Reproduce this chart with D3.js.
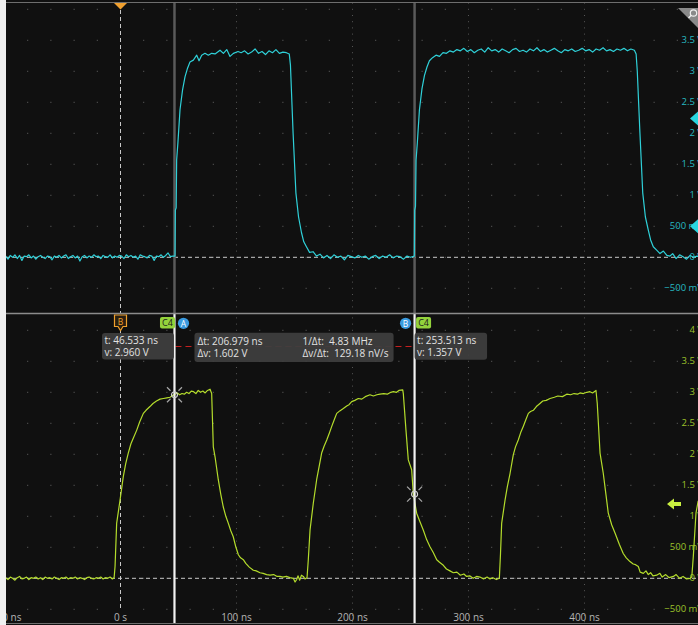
<!DOCTYPE html>
<html>
<head>
<meta charset="utf-8">
<style>
  html, body { margin: 0; padding: 0; background: #f0f0f0; }
  svg { display: block; }
  text { font-family: "Open Sans", "DejaVu Sans", sans-serif; }
</style>
</head>
<body>
<div id="scope"></div>

<script src="https://cdnjs.cloudflare.com/ajax/libs/d3/7.8.5/d3.min.js"></script>
<script>
    // Two stacked scope panels: cyan channel on top, C4 (yellow-green) below with cursors

    // time ticks (ns) and voltage ticks (V)
    var timeTicks = [-100, 0, 100, 200, 300, 400];
    var voltTicksTop = [-0.5, 0, 0.5, 1, 1.5, 2, 2.5, 3, 3.5];
    var voltTicksBot = [-0.5, 0, 0.5, 1, 1.5, 2, 2.5, 3, 3.5, 4];

    // cursor readouts
    var cursorA = {t: 46.533, v: 2.960};
    var cursorB = {t: 253.513, v: 1.357};
    var deltaText = ["\u0394t: 206.979 ns", "\u0394v: 1.602 V"];
    var rateText = ["1/\u0394t:  4.83 MHz", "\u0394v/\u0394t:  129.18 nV/s"];

    // top trace [t ns, volts]
    var traceTop = [
        [-99,0.02],[-97,-0.03],[-95,0.03],[-93,0.00],[-91,0.04],[-89,-0.02],[-87,0.03],[-85,-0.05],[-83,0.02],[-81,0.01],
        [-79,0.04],[-77,-0.01],[-75,0.02],[-73,-0.03],[-71,0.01],[-69,0.03],[-67,0.00],[-65,-0.02],[-63,0.02],[-61,0.01],
        [-59,-0.04],[-57,0.02],[-55,0.00],[-53,0.03],[-51,-0.01],[-49,0.02],[-47,0.04],[-45,-0.02],[-43,0.01],[-41,0.03],
        [-39,-0.01],[-37,0.02],[-35,-0.06],[-33,0.01],[-31,0.03],[-29,-0.01],[-27,0.02],[-25,0.00],[-23,0.04],[-21,0.01],
        [-19,0.02],[-17,-0.02],[-15,0.03],[-13,0.01],[-11,0.00],[-9,0.04],[-7,-0.01],[-5,0.02],[-3,0.00],[-1,0.03],
        [1,0.02],[3,-0.02],[5,0.04],[7,0.01],[9,0.03],[11,0.00],[13,0.02],[15,-0.03],[17,0.04],[19,0.02],
        [21,0.01],[23,-0.01],[25,0.03],[27,0.02],[29,-0.05],[31,0.02],[33,0.01],[35,0.04],[37,0.00],[39,0.03],
        [41,0.07],[43,0.01],[45,0.02],[47.0,0.02],
        [47.3,0.76],[48.0,0.80],[48.4,1.57],[49.5,1.85],[51.3,2.38],[53.5,2.70],[55.6,2.91],[57.8,3.05],
        [59.9,3.15],[62.8,3.18],[65.7,3.26],[67.7,3.17],[70.0,3.26],[72.8,3.29],[75.7,3.26],[78.6,3.29],
        [81.5,3.28],[85.8,3.34],[88.7,3.29],[91.6,3.35],[94.4,3.24],[97.3,3.29],[101.3,3.32],
        [104,3.30],[107,3.33],[110,3.28],[113,3.31],[116,3.36],[119,3.29],[122,3.32],[125,3.27],[128,3.33],
        [131,3.30],[134,3.35],[137,3.29],[140,3.31],[143,3.30],[145.5,3.28],
        [146.5,3.10],[148.8,2.00],[151.2,1.04],[153.5,0.65],[156,0.40],[158,0.25],[160.3,0.17],[163,0.08],
        [166,0.09],[169,0.02],[172,0.05],[175,-0.01],
        [178,0.03],[181,-0.02],[184,0.04],[187,0.00],[190,0.02],[193,-0.04],[196,0.03],[199,0.01],[202,-0.01],
        [205,0.03],[208,0.00],[211,0.02],[214,-0.03],[217,0.01],[220,0.03],[223,-0.02],[226,0.02],[229,0.00],
        [232,0.04],[235,-0.01],[238,0.02],[241,0.01],[244,-0.03],[247,0.02],[250,0.00],[253.3,0.02],
        [253.6,0.76],[254.3,0.82],[254.8,1.57],[255.9,1.85],[257.7,2.38],[259.9,2.72],[262,2.93],[264.2,3.07],
        [266.3,3.17],[269,3.22],[272,3.26],[275,3.24],[278,3.30],[281,3.29],[284,3.33],
        [287,3.31],[290,3.35],[293,3.33],[296,3.37],[299,3.32],[302,3.35],[305,3.30],[308,3.34],[311,3.36],
        [314,3.31],[317,3.38],[320,3.33],[323,3.35],[326,3.31],[329,3.36],[332,3.33],[335,3.30],[338,3.35],
        [341,3.37],[344,3.32],[347,3.34],[350,3.31],[353,3.36],[356,3.33],[359,3.38],[362,3.32],[365,3.35],
        [368,3.31],[371,3.34],[374,3.37],[377,3.33],[380,3.30],[383,3.35],[386,3.33],[389,3.36],[392,3.32],
        [395,3.34],[398,3.37],[401,3.33],[404,3.35],[407,3.31],[410,3.36],[413,3.34],[416,3.38],[419,3.33],
        [422,3.35],[425,3.32],[428,3.36],[431,3.34],[434,3.37],[437,3.33],[440,3.36],[443,3.34],[444.5,3.28],
        [445.5,3.00],[447.8,2.00],[450.2,1.04],[452.5,0.65],[455,0.44],[457,0.28],[459.3,0.17],[462,0.12],
        [465.1,0.06],[468,0.10],[471,0.03],[473.7,0.02],[476,0.06],[479,-0.02],[482,0.04],[485,0.01],
        [488,-0.03],[491,0.03],[494,0.00],[497,0.02],[499,0.01]
    ];

    // bottom trace (C4) [t ns, volts]
    var traceBot = [
        [-99,0.01],[-97,-0.02],[-95,0.02],[-93,0.00],[-91,-0.03],[-89,0.01],[-87,0.03],[-85,-0.01],[-83,0.00],[-81,0.02],
        [-79,-0.02],[-77,0.01],[-75,0.00],[-73,0.02],[-71,-0.01],[-69,0.01],[-67,-0.02],[-65,0.02],[-63,0.00],[-61,0.01],
        [-59,-0.01],[-57,0.02],[-55,0.00],[-53,-0.02],[-51,0.01],[-49,0.00],[-47,0.02],[-45,-0.01],[-43,0.01],[-41,0.00],
        [-39,0.02],[-37,-0.01],[-35,0.01],[-33,0.00],[-31,-0.02],[-29,0.01],[-27,0.02],[-25,0.00],[-23,-0.01],[-21,0.01],
        [-19,0.00],[-17,0.02],[-15,-0.01],[-13,0.01],[-11,0.00],[-9,0.02],[-7,-0.01],[-5.5,0.01],
        [-4.7,0.19],[-3.3,0.89],[-0.4,1.26],[2.4,1.64],[4.5,1.85],[6.7,2.02],[9,2.17],[11.0,2.26],[14.0,2.39],
        [16.5,2.52],[19.7,2.66],[22,2.71],[25.4,2.77],[28,2.82],[31,2.86],[34.1,2.89],[37,2.90],[40,2.91],
        [42.7,2.92],[45,2.95],[47,2.97],[49,2.99],[51,2.96],[53,2.98],[55,2.97],[57,3.00],[59,2.98],[61,3.02],
        [63,3.01],[65,2.98],[67,3.03],[69,3.00],[71,3.02],[73,2.99],[75,3.03],[77.2,3.05],
        [78.6,2.98],[80.0,2.12],[81.5,1.96],[84.3,1.59],[86.5,1.35],[88.6,1.15],[90.8,1.00],[92.9,0.89],[95,0.77],
        [97.2,0.67],[99.5,0.50],[101.6,0.38],[103.5,0.33],[105.9,0.30],[108,0.24],[111,0.18],[114.5,0.13],
        [117,0.12],[120.3,0.09],[123,0.08],[126,0.06],[128.9,0.05],[132,0.06],[135,0.03],[137.5,0.03],[140,0.02],
        [143,0.03],[146,0.01],[149,0.00],[150.5,-0.06],[151.9,-0.02],[153,0.04],[154.5,-0.03],[156,0.05],
        [157.6,0.03],[159,-0.01],[160.8,0.01],
        [161.9,0.30],[163.4,0.78],[166.2,1.21],[169.1,1.59],[171.5,1.83],[173.4,2.02],[175.5,2.13],[177.8,2.23],
        [180,2.34],[182.1,2.45],[184.5,2.57],[186.4,2.66],[189,2.70],[192.1,2.74],[195,2.78],[197,2.80],
        [199.3,2.85],[202,2.87],[205,2.90],[208,2.89],[211,2.93],[215.1,2.96],[218,2.94],[221,2.96],[223.7,2.97],
        [227,2.98],[230,2.97],[233,3.00],[235.2,3.01],[238,3.00],[240,3.03],[243.3,3.04],
        [243.8,2.98],[246.1,2.39],[248.1,1.91],[251.0,1.75],[252.4,1.37],[255.3,1.05],[258,0.92],[261.0,0.78],
        [264,0.62],[266.8,0.51],[269.5,0.42],[272.6,0.30],[275,0.26],[278.3,0.21],[281,0.15],[284,0.12],
        [286.9,0.09],[290,0.10],[293,0.05],[296,0.07],[298.4,0.03],[301,0.04],[304,0.00],[307,0.03],[309.9,0.02],
        [313,-0.01],[316,0.02],[318.5,-0.01],[321,0.01],[324,-0.02],[326.6,0.00],
        [327.6,0.40],[328.6,0.89],[331.5,1.26],[333.5,1.48],[335.8,1.69],[338.6,1.99],[340.5,2.12],[342.9,2.23],
        [345,2.35],[347.2,2.45],[349.5,2.56],[351.6,2.66],[353.5,2.69],[355.9,2.71],[358.5,2.77],[361.6,2.82],
        [364,2.86],[367,2.87],[370.3,2.90],[374,2.92],[377,2.94],[381,2.93],[384.7,2.97],[388,2.96],[391,2.98],
        [394,2.97],[396.1,2.99],[399,2.98],[402,3.00],[404.7,3.01],[407,2.99],[409.9,3.03],
        [411.0,2.82],[413.4,2.02],[416.2,1.69],[418.5,1.35],[420.5,1.05],[423.5,0.86],[426.3,0.73],[430,0.55],
        [433.4,0.40],[436,0.33],[439.2,0.27],[442,0.23],[444,0.22],[446.4,0.19],[448,0.10],[450.7,0.08],
        [453,0.12],[455,0.06],[457,0.09],[459,0.04],[462.2,0.05],[465,0.08],[467,0.02],[470,0.06],[473,0.01],
        [476.6,0.03],[479,0.06],[482,0.00],[485,0.03],[488,-0.01],[491,0.00],[492.5,0.02],
        [493.8,0.35],[496.1,1.05],[498,1.25]
    ];

    var width = 698, height = 625;
    var plotLeft = 6, plotRight = 698;
    var topY0 = 3, topY1 = 313, botY0 = 314, botY1 = 623;

    var cyan = "#2fd0d8", cyanLabel = "#27b9c1";
    var lime = "#b4dc2c", limeLabel = "#9cc22a";

    var x = d3.scaleLinear().domain([-100, 500]).range([4.5, 700.5]);
    var yTop = d3.scaleLinear().domain([-0.5, 4]).range([288.3, 9.3]);
    var yBot = d3.scaleLinear().domain([-0.5, 4]).range([609.3, 330.3]);

    function voltLabel(v) {
        if (v === 0) return "0 V";
        if (Math.abs(v) < 1) return d3.format("d")(v * 1000) + " mV";
        return v + " V";
    }
    function timeLabel(t) {
        return t === 0 ? "0 s" : t + " ns";
    }

    var svg = d3.select("#scope").append("svg")
        .attr("width", width)
        .attr("height", height);

    // screen background
    svg.append("rect").attr("x", plotLeft).attr("y", 0)
        .attr("width", plotRight - plotLeft).attr("height", height)
        .attr("fill", "#101010");

    var defs = svg.append("defs");
    defs.append("clipPath").attr("id", "clipTop").append("rect")
        .attr("x", plotLeft).attr("y", topY0).attr("width", plotRight - plotLeft).attr("height", topY1 - topY0);
    defs.append("clipPath").attr("id", "clipBot").append("rect")
        .attr("x", plotLeft).attr("y", botY0).attr("width", plotRight - plotLeft).attr("height", botY1 - botY0);

    // grid dots for one panel
    function drawGrid(g, y, y0, y1) {
        var cols = d3.range(-100, 501, 20);
        var rows = d3.range(-0.5, 4.01, 0.5);
        cols.forEach(function(t) {
            if (t % 100 === 0 && t !== 0) {
                // dense dotted major column
                var vLo = y.invert(y1), vHi = y.invert(y0);
                d3.range(Math.ceil(vLo * 10) / 10, vHi, 0.1).forEach(function(v) {
                    g.append("rect").attr("x", x(t) - 0.5).attr("y", y(v) - 0.5)
                        .attr("width", 1).attr("height", 1).attr("fill", "#555");
                });
            } else if (t !== 0) {
                rows.forEach(function(v) {
                    g.append("rect").attr("x", x(t) - 0.5).attr("y", y(v) - 0.5)
                        .attr("width", 1).attr("height", 1).attr("fill", "#666");
                });
            }
        });
        // zero reference dashed
        g.append("line")
            .attr("x1", plotLeft).attr("x2", plotRight)
            .attr("y1", y(0)).attr("y2", y(0))
            .attr("stroke", "#c8c8c8").attr("stroke-width", 1)
            .attr("stroke-dasharray", "4,3");
    }

    var gTop = svg.append("g").attr("clip-path", "url(#clipTop)");
    var gBot = svg.append("g").attr("clip-path", "url(#clipBot)");
    drawGrid(gTop, yTop, topY0, topY1);
    drawGrid(gBot, yBot, botY0, botY1);

    // trigger time line
    gTop.append("line").attr("x1", x(0)).attr("x2", x(0)).attr("y1", 10).attr("y2", topY1)
        .attr("stroke", "#c8c8c8").attr("stroke-dasharray", "4,3");
    gBot.append("line").attr("x1", x(0)).attr("x2", x(0)).attr("y1", 331).attr("y2", 611)
        .attr("stroke", "#c8c8c8").attr("stroke-dasharray", "4,3");

    // cursor lines in top panel (dim)
    [cursorA, cursorB].forEach(function(c) {
        gTop.append("line").attr("x1", x(c.t)).attr("x2", x(c.t)).attr("y1", topY0).attr("y2", topY1)
            .attr("stroke", "#5a5a5a").attr("stroke-width", 2.5);
    });

    // y tick labels (clipped at the right edge, as on the screen)
    gTop.selectAll(".ylab").data(voltTicksTop).enter().append("text")
        .attr("x", 703).attr("y", function(d) { return yTop(d); })
        .attr("text-anchor", "end").attr("dominant-baseline", "middle")
        .attr("font-size", 9.5).attr("fill", cyanLabel)
        .text(voltLabel);
    gBot.selectAll(".ylab").data(voltTicksBot).enter().append("text")
        .attr("x", 703).attr("y", function(d) { return yBot(d); })
        .attr("text-anchor", "end").attr("dominant-baseline", "middle")
        .attr("font-size", 9.5).attr("fill", limeLabel)
        .text(voltLabel);

    // traces
    var lineTop = d3.line().x(function(d) { return x(d[0]); }).y(function(d) { return yTop(d[1]); });
    var lineBot = d3.line().x(function(d) { return x(d[0]); }).y(function(d) { return yBot(d[1]); });

    gTop.append("path").datum(traceTop).attr("d", lineTop)
        .attr("fill", "none").attr("stroke", cyan).attr("stroke-width", 1.2)
        .attr("stroke-linejoin", "round");
    gBot.append("path").datum(traceBot).attr("d", lineBot)
        .attr("fill", "none").attr("stroke", lime).attr("stroke-width", 1.2)
        .attr("stroke-linejoin", "round");

    // x labels
    gBot.selectAll(".xlab").data(timeTicks).enter().append("text")
        .attr("x", function(d) { return x(d); }).attr("y", 618)
        .attr("text-anchor", "middle").attr("dominant-baseline", "middle")
        .attr("font-size", 10).attr("fill", "#b4b4b4")
        .text(timeLabel);

    // red link between cursor readouts
    var xa = x(cursorA.t), xb = x(cursorB.t);
    gBot.append("line").attr("x1", xa + 1).attr("x2", xb - 1).attr("y1", 346.5).attr("y2", 346.5)
        .attr("stroke", "#c42020").attr("stroke-width", 1).attr("stroke-dasharray", "6,4");

    // cursor lines bottom panel (bright)
    [cursorA, cursorB].forEach(function(c) {
        gBot.append("line").attr("x1", x(c.t)).attr("x2", x(c.t)).attr("y1", botY0).attr("y2", botY1)
            .attr("stroke", "#f2f2f2").attr("stroke-width", 2.2);
    });

    // cursor crosshair markers on the trace
    [cursorA, cursorB].forEach(function(c) {
        var m = gBot.append("g").attr("transform", "translate(" + x(c.t) + "," + yBot(c.v) + ")");
        m.append("circle").attr("r", 3).attr("fill", "none").attr("stroke", "#cfcfcf").attr("stroke-width", 1.2);
        [[1, 1], [1, -1], [-1, 1], [-1, -1]].forEach(function(s) {
            m.append("line").attr("x1", s[0] * 4).attr("y1", s[1] * 4).attr("x2", s[0] * 7.5).attr("y2", s[1] * 7.5)
                .attr("stroke", "#a8a8a8").attr("stroke-width", 1.2);
        });
    });

    // readout boxes
    function readout(bx, by, bw, bh) {
        gBot.append("rect").attr("x", bx).attr("y", by).attr("width", bw).attr("height", bh)
            .attr("rx", 3).attr("fill", "#3e3e3e").attr("fill-opacity", 0.95);
    }
    function readText(tx, ty, s) {
        gBot.append("text").attr("x", tx).attr("y", ty).attr("font-size", 10)
            .attr("fill", "#e2e2e2").style("white-space", "pre").text(s);
    }
    readout(xa - 72.5, 333, 72, 26.5);
    readText(xa - 70, 344, "t: " + d3.format(".3f")(cursorA.t) + " ns");
    readText(xa - 70, 355.5, "v: " + d3.format(".3f")(cursorA.v) + " V");

    readout(xa + 20, 332.7, xb - xa - 41, 29.3);
    readText(xa + 23, 344.5, deltaText[0]);
    readText(xa + 23, 356.5, deltaText[1]);
    readText(xa + 128, 344.5, rateText[0]);
    readText(xa + 128, 356.5, rateText[1]);

    readout(xb, 332.7, 72.5, 27);
    readText(xb + 2.5, 344, "t: " + d3.format(".3f")(cursorB.t) + " ns");
    readText(xb + 2.5, 355.5, "v: " + d3.format(".3f")(cursorB.v) + " V");

    // cursor badges
    function badgeC4(bx) {
        gBot.append("rect").attr("x", bx).attr("y", 317).attr("width", 15).attr("height", 11.5)
            .attr("rx", 2).attr("fill", "#93d23c");
        gBot.append("text").attr("x", bx + 7.5).attr("y", 326).attr("text-anchor", "middle")
            .attr("font-size", 9).attr("fill", "#1c1c1c").text("C4");
    }
    function badgeCircle(cx, s) {
        gBot.append("circle").attr("cx", cx).attr("cy", 323.3).attr("r", 5.6).attr("fill", "#3a9be0");
        gBot.append("text").attr("x", cx).attr("y", 326.5).attr("text-anchor", "middle")
            .attr("font-size", 8.5).attr("fill", "#ffffff").text(s);
    }
    badgeC4(xa - 14.5);
    badgeCircle(xa + 9, "A");
    badgeCircle(xb - 9, "B");
    badgeC4(xb + 1.5);

    // orange marker tag at trigger time (bottom)
    var x0 = x(0);
    gBot.append("path")
        .attr("d", "M" + (x0 - 6) + ",315 H" + (x0 + 6) + " V326.5 H" + (x0 + 2.5) + " L" + x0 + ",330.5 L" + (x0 - 2.5) + ",326.5 H" + (x0 - 6) + " Z")
        .attr("fill", "#2a1f10").attr("stroke", "#f0a02c").attr("stroke-width", 1.2);
    gBot.append("text").attr("x", x0).attr("y", 324.5).attr("text-anchor", "middle")
        .attr("font-size", 8.5).attr("fill", "#f0a02c").text("B");

    // trigger position triangle (top)
    svg.append("path")
        .attr("d", "M" + (x0 - 6.5) + ",3 L" + (x0 + 6.5) + ",3 L" + x0 + ",9.5 Z")
        .attr("fill", "#f0a030");

    // right edge channel markers (top panel)
    [2.24, 0.5].forEach(function(v) {
        var yy = yTop(v);
        gTop.append("path")
            .attr("d", "M690," + yy + " L698," + (yy - 7) + " L706," + yy + " L698," + (yy + 7) + " Z")
            .attr("fill", "#28d6e0");
    });
    // trigger level arrow (bottom panel)
    var ya = yBot(1.2);
    gBot.append("path")
        .attr("d", "M667," + ya + " L674," + (ya - 5.5) + " L674," + (ya - 2) + " L681," + (ya - 2) +
              " L681," + (ya + 2) + " L674," + (ya + 2) + " L674," + (ya + 5.5) + " Z")
        .attr("fill", "#c9f040");

    // zoom icon corner (top right)
    svg.append("path").attr("d", "M678,8 L698,8 L698,28 Z").attr("fill", "#8a8a8a");
    svg.append("circle").attr("cx", 693.5).attr("cy", 13).attr("r", 3.2)
        .attr("fill", "none").attr("stroke", "#f0f0f0").attr("stroke-width", 1.2);
    svg.append("line").attr("x1", 691.2).attr("y1", 15.3).attr("x2", 688.5).attr("y2", 18)
        .attr("stroke", "#f0f0f0").attr("stroke-width", 1.4);

    // panel borders
    [2.5, 313.5, 623.5].forEach(function(yy, i) {
        svg.append("line").attr("x1", plotLeft).attr("x2", plotRight).attr("y1", yy).attr("y2", yy)
            .attr("stroke", i === 1 ? "#8c8c8c" : "#6e6e6e").attr("stroke-width", i === 1 ? 1.5 : 1.2);
    });
</script>
</body>
</html>
